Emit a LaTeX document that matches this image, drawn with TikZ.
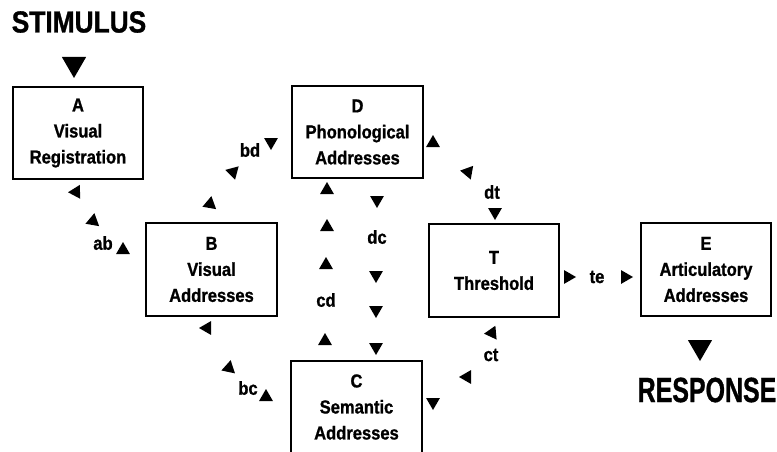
\documentclass[tikz,border=0pt]{standalone}
\usepackage{fontspec}
\setmainfont{Liberation Sans}[FakeStretch=0.88, BoldFeatures={FakeBold=1}]
\usetikzlibrary{shapes.geometric}
\begin{document}
\begin{tikzpicture}[x=1pt,y=-1pt,
  stage/.style={draw, line width=1.2pt, minimum width=130pt, minimum height=92pt,
    inner sep=0pt, align=center, font=\fontsize{18.8}{26}\selectfont\bfseries},
  route/.style={inner sep=0pt, font=\fontsize{18.8}{22}\selectfont\bfseries},
  headword/.style={inner sep=0pt, font=\bfseries},
  tri/.style={regular polygon, regular polygon sides=3, fill=black, draw=none,
    inner sep=0pt, minimum size=16pt},
  bigtri/.style={tri, minimum size=28pt}]
\useasboundingbox (0,0) rectangle (777,452);

% processing stages
\node[stage] (A) at (78,133)    {A\\Visual\\Registration};
\node[stage, minimum width=131pt] (D) at (357.5,132) {D\\Phonological\\Addresses};
\node[stage, minimum width=131pt, minimum height=93pt] (B) at (211.5,269.5) {B\\Visual\\Addresses};
\node[stage, minimum height=93pt] (T) at (494,270.5) {T\\Threshold};
\node[stage, minimum height=93pt] (E) at (706,269.5) {E\\Articulatory\\Addresses};
\node[stage, minimum width=131pt] (C) at (356.5,407) {C\\Semantic\\Addresses};

% input and output
\node[headword, font=\fontsize{30.5}{32}\selectfont\bfseries] (stim) at (79,22) {\scalebox{0.98}[1]{STIMULUS}};
\node[bigtri, rotate=180] (stimtip) at (74,64) {};
\node[headword, font=\fontsize{35}{36}\selectfont\bfseries] (resp) at (707,390) {\scalebox{0.81}[1]{RESPONSE}};
\node[bigtri, rotate=180] (resptip) at (700,347) {};

% route ab
\node[tri, rotate=-28] (ab1) at (76,192) {};
\node[tri, rotate=-10] (ab2) at (93,221) {};
\node[route] (ab) at (103,243) {ab};
\node[tri] (ab3) at (123,250) {};

% route bd
\node[tri, rotate=180] (bd1) at (271,142) {};
\node[route] (bd) at (250,150) {bd};
\node[tri, rotate=-45] (bd2) at (233,172) {};
\node[tri, rotate=-10] (bd3) at (210,204) {};

% route bc
\node[tri, rotate=-30] (bc1) at (207,328) {};
\node[tri, rotate=-12] (bc2) at (229,368) {};
\node[route] (bc) at (248,388) {bc};
\node[tri] (bc3) at (266,397) {};

% routes cd and dc
\node[tri] (cd1) at (327,190) {};
\node[tri] (cd2) at (327,227) {};
\node[tri] (cd3) at (326,265) {};
\node[route] (cd) at (326,300) {cd};
\node[tri] (cd4) at (325,341) {};
\node[tri, rotate=180] (dc1) at (377,200) {};
\node[route] (dc) at (377,237) {dc};
\node[tri, rotate=180] (dc2) at (376,275) {};
\node[tri, rotate=180] (dc3) at (376,310) {};
\node[tri, rotate=180] (dc4) at (376,347) {};

% route dt
\node[tri] (dt1) at (433,143) {};
\node[tri, rotate=-40] (dt2) at (468,172) {};
\node[route] (dt) at (492,192) {dt};
\node[tri, rotate=180] (dt3) at (495,212) {};

% route ct
\node[tri, rotate=-25] (ct1) at (492,333) {};
\node[route] (ct) at (491,355) {ct};
\node[tri, rotate=-30] (ct2) at (467,377) {};
\node[tri, rotate=180] (ct3) at (433,402) {};

% route te
\node[tri, rotate=-90] (te1) at (568,277) {};
\node[route] (te) at (597,277) {te};
\node[tri, rotate=-90] (te2) at (625,277) {};
\end{tikzpicture}
\end{document}
